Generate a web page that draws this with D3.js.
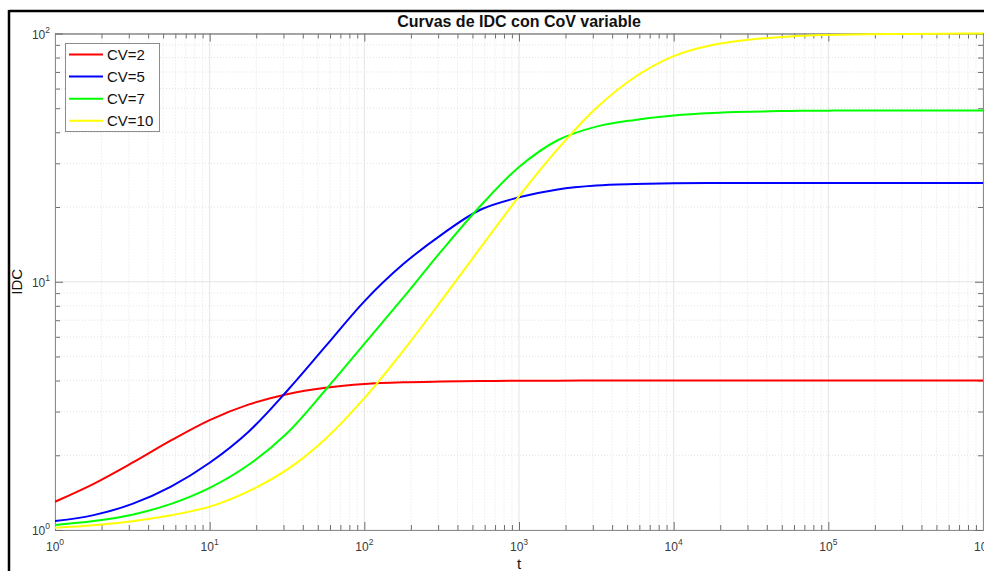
<!DOCTYPE html>
<html>
<head>
<meta charset="utf-8">
<script src="https://cdn.jsdelivr.net/npm/d3@7"></script>
<style>
  html, body { margin: 0; padding: 0; background: #fff; }
  svg { display: block; font-family: "Liberation Sans", Arial, Helvetica, sans-serif; }
</style>
</head>
<body>
<svg id="chart" width="984" height="571"></svg>
<script>
// ---- data ----
const tValues = [1, 1.778, 3.162, 5.623, 10, 17.78, 31.62, 56.23, 100, 177.8, 316.2, 562.3,
  1000, 1778, 3162, 5623, 10000, 17783, 31623, 56234, 100000, 177828, 316228, 562341, 1000000];
const seriesNames = ["CV=2", "CV=5", "CV=7", "CV=10"];
const seriesColors = ["#ff0000", "#0000ff", "#00ff00", "#ffff00"];
const idcCV2 = [1.30, 1.535, 1.866, 2.296, 2.773, 3.199, 3.524, 3.741, 3.873, 3.936, 3.963, 3.981,
  3.990, 3.995, 3.998, 4.0, 4.0, 4.0, 4.0, 4.0, 4.0, 4.0, 4.0, 4.0, 4.0];
const idcCV5 = [1.086, 1.148, 1.274, 1.496, 1.866, 2.483, 3.63, 5.50, 8.34, 11.75, 15.49, 19.50,
  21.88, 23.55, 24.43, 24.77, 24.95, 25.0, 25.0, 25.0, 25.0, 25.0, 25.0, 25.0, 25.0];
const idcCV7 = [1.047, 1.086, 1.153, 1.274, 1.479, 1.828, 2.455, 3.673, 5.623, 8.61, 13.34, 20.18,
  28.97, 37.15, 42.17, 44.87, 46.77, 47.86, 48.42, 48.75, 48.9, 49.0, 49.0, 49.0, 49.0];
const idcCV10 = [1.021, 1.045, 1.084, 1.146, 1.242, 1.432, 1.750, 2.333, 3.396, 5.26, 8.43, 13.68,
  22.08, 34.2, 50.1, 66.8, 81.1, 89.9, 94.6, 97.3, 98.6, 99.3, 99.65, 99.84, 100.0];
const seriesValues = [idcCV2, idcCV5, idcCV7, idcCV10];
const xMajorExp = [0, 1, 2, 3, 4, 5, 6];
const yMajorExp = [0, 1, 2];
const titleText = "Curvas de IDC con CoV variable";
const xLabelText = "t";
const yLabelText = "IDC";

// ---- layout ----
const L = 55, R = 983, T = 33.5, B = 530;
const svg = d3.select("#chart");
svg.append("rect").attr("width", 984).attr("height", 571).attr("fill", "#fff");

const x = d3.scaleLog().domain([1, 1e6]).range([L, R]);
const y = d3.scaleLog().domain([1, 100]).range([B, T]);

const xMajor = xMajorExp.map(e => Math.pow(10, e));
const yMajor = yMajorExp.map(e => Math.pow(10, e));
const xMinor = [], yMinor = [];
for (let e = 0; e < 6; e++) for (let k = 2; k <= 9; k++) xMinor.push(k * Math.pow(10, e));
for (let e = 0; e < 2; e++) for (let k = 2; k <= 9; k++) yMinor.push(k * Math.pow(10, e));

// grid
const grid = svg.append("g");
grid.selectAll(".gxm").data(xMinor).join("line")
  .attr("x1", d => x(d)).attr("x2", d => x(d)).attr("y1", T).attr("y2", B)
  .attr("stroke", "#dcdcdc").attr("stroke-width", 0.8).attr("stroke-dasharray", "1,2");
grid.selectAll(".gym").data(yMinor).join("line")
  .attr("y1", d => y(d)).attr("y2", d => y(d)).attr("x1", L).attr("x2", R)
  .attr("stroke", "#dcdcdc").attr("stroke-width", 0.8).attr("stroke-dasharray", "1,2");
grid.selectAll(".gxM").data(xMajor).join("line")
  .attr("x1", d => x(d)).attr("x2", d => x(d)).attr("y1", T).attr("y2", B)
  .attr("stroke", "#e4e4e4").attr("stroke-width", 1);
grid.selectAll(".gyM").data(yMajor).join("line")
  .attr("y1", d => y(d)).attr("y2", d => y(d)).attr("x1", L).attr("x2", R)
  .attr("stroke", "#e4e4e4").attr("stroke-width", 1);

// axes (ticks inward, box on)
function styleAxis(g) {
  g.select(".domain").attr("stroke", "#8c8c8c").attr("stroke-width", 1);
  g.selectAll(".tick line").attr("stroke", "#6e6e6e").attr("stroke-width", 1);
  g.selectAll(".tick text").remove();
}
const axes = svg.append("g");
axes.append("g").attr("transform", `translate(0,${B})`)
  .call(d3.axisBottom(x).tickValues(xMinor).tickSizeInner(-5).tickSizeOuter(0).tickFormat("")).call(styleAxis);
axes.append("g").attr("transform", `translate(0,${B})`)
  .call(d3.axisBottom(x).tickValues(xMajor).tickSizeInner(-8).tickSizeOuter(0).tickFormat("")).call(styleAxis);
axes.append("g").attr("transform", `translate(0,${T})`)
  .call(d3.axisTop(x).tickValues(xMinor).tickSizeInner(-5).tickSizeOuter(0).tickFormat("")).call(styleAxis);
axes.append("g").attr("transform", `translate(0,${T})`)
  .call(d3.axisTop(x).tickValues(xMajor).tickSizeInner(-8).tickSizeOuter(0).tickFormat("")).call(styleAxis);
axes.append("g").attr("transform", `translate(${L},0)`)
  .call(d3.axisLeft(y).tickValues(yMinor).tickSizeInner(-5).tickSizeOuter(0).tickFormat("")).call(styleAxis);
axes.append("g").attr("transform", `translate(${L},0)`)
  .call(d3.axisLeft(y).tickValues(yMajor).tickSizeInner(-8).tickSizeOuter(0).tickFormat("")).call(styleAxis);
axes.append("g").attr("transform", `translate(${R},0)`)
  .call(d3.axisRight(y).tickValues(yMinor).tickSizeInner(-5).tickSizeOuter(0).tickFormat("")).call(styleAxis);
axes.append("g").attr("transform", `translate(${R},0)`)
  .call(d3.axisRight(y).tickValues(yMajor).tickSizeInner(-8).tickSizeOuter(0).tickFormat("")).call(styleAxis);

// tick labels
const tickColor = "#3a3a3a";
const xl = svg.append("g").attr("fill", tickColor).attr("font-size", 12);
xMajorExp.forEach(e => {
  const t = xl.append("text").attr("x", x(Math.pow(10, e))).attr("y", 551).attr("text-anchor", "middle");
  t.append("tspan").text("10");
  t.append("tspan").attr("dy", -6).attr("font-size", 8.5).text(String(e));
});
const yl = svg.append("g").attr("fill", tickColor).attr("font-size", 12);
yMajorExp.forEach(e => {
  const t = yl.append("text").attr("x", 50).attr("y", y(Math.pow(10, e)) + 5).attr("text-anchor", "end");
  t.append("tspan").text("10");
  t.append("tspan").attr("dy", -6).attr("font-size", 8.5).text(String(e));
});

// lines
const clip = svg.append("clipPath").attr("id", "plotclip");
clip.append("rect").attr("x", L).attr("y", T - 2).attr("width", R - L).attr("height", B - T + 2);
const line = d3.line().x(d => x(d[0])).y(d => y(d[1])).curve(d3.curveCatmullRom.alpha(0.5));
const lines = svg.append("g").attr("clip-path", "url(#plotclip)");
seriesValues.forEach((vals, i) => {
  lines.append("path")
    .datum(tValues.map((t, j) => [t, vals[j]]))
    .attr("d", line).attr("fill", "none")
    .attr("stroke", seriesColors[i]).attr("stroke-width", 2);
});

// legend
const lg = svg.append("g");
lg.append("rect").attr("x", 65.5).attr("y", 43.5).attr("width", 94).attr("height", 88)
  .attr("fill", "#fff").attr("stroke", "#8c8c8c").attr("stroke-width", 1);
seriesNames.forEach((n, i) => {
  const cy = 54.5 + i * 22.1;
  lg.append("line").attr("x1", 69).attr("x2", 103).attr("y1", cy).attr("y2", cy)
    .attr("stroke", seriesColors[i]).attr("stroke-width", 2);
  lg.append("text").attr("x", 107).attr("y", cy + 5.5).attr("font-size", 15)
    .attr("fill", "#111").text(n);
});

// title & labels
svg.append("text").attr("x", (L + R) / 2).attr("y", 26.5).attr("text-anchor", "middle")
  .attr("font-size", 16).attr("font-weight", "bold").attr("fill", "#111").text(titleText);
svg.append("text").attr("x", (L + R) / 2).attr("y", 569).attr("text-anchor", "middle")
  .attr("font-size", 15).attr("fill", "#111").text(xLabelText);
svg.append("text").attr("transform", `translate(22,${(T + B) / 2}) rotate(-90)`)
  .attr("text-anchor", "middle").attr("font-size", 15).attr("fill", "#111").text(yLabelText);

// outer black frame
svg.append("line").attr("x1", 9).attr("x2", 984).attr("y1", 11).attr("y2", 11)
  .attr("stroke", "#000").attr("stroke-width", 2.5);
svg.append("line").attr("x1", 9).attr("x2", 9).attr("y1", 10).attr("y2", 571)
  .attr("stroke", "#000").attr("stroke-width", 2.5);
</script>
</body>
</html>
